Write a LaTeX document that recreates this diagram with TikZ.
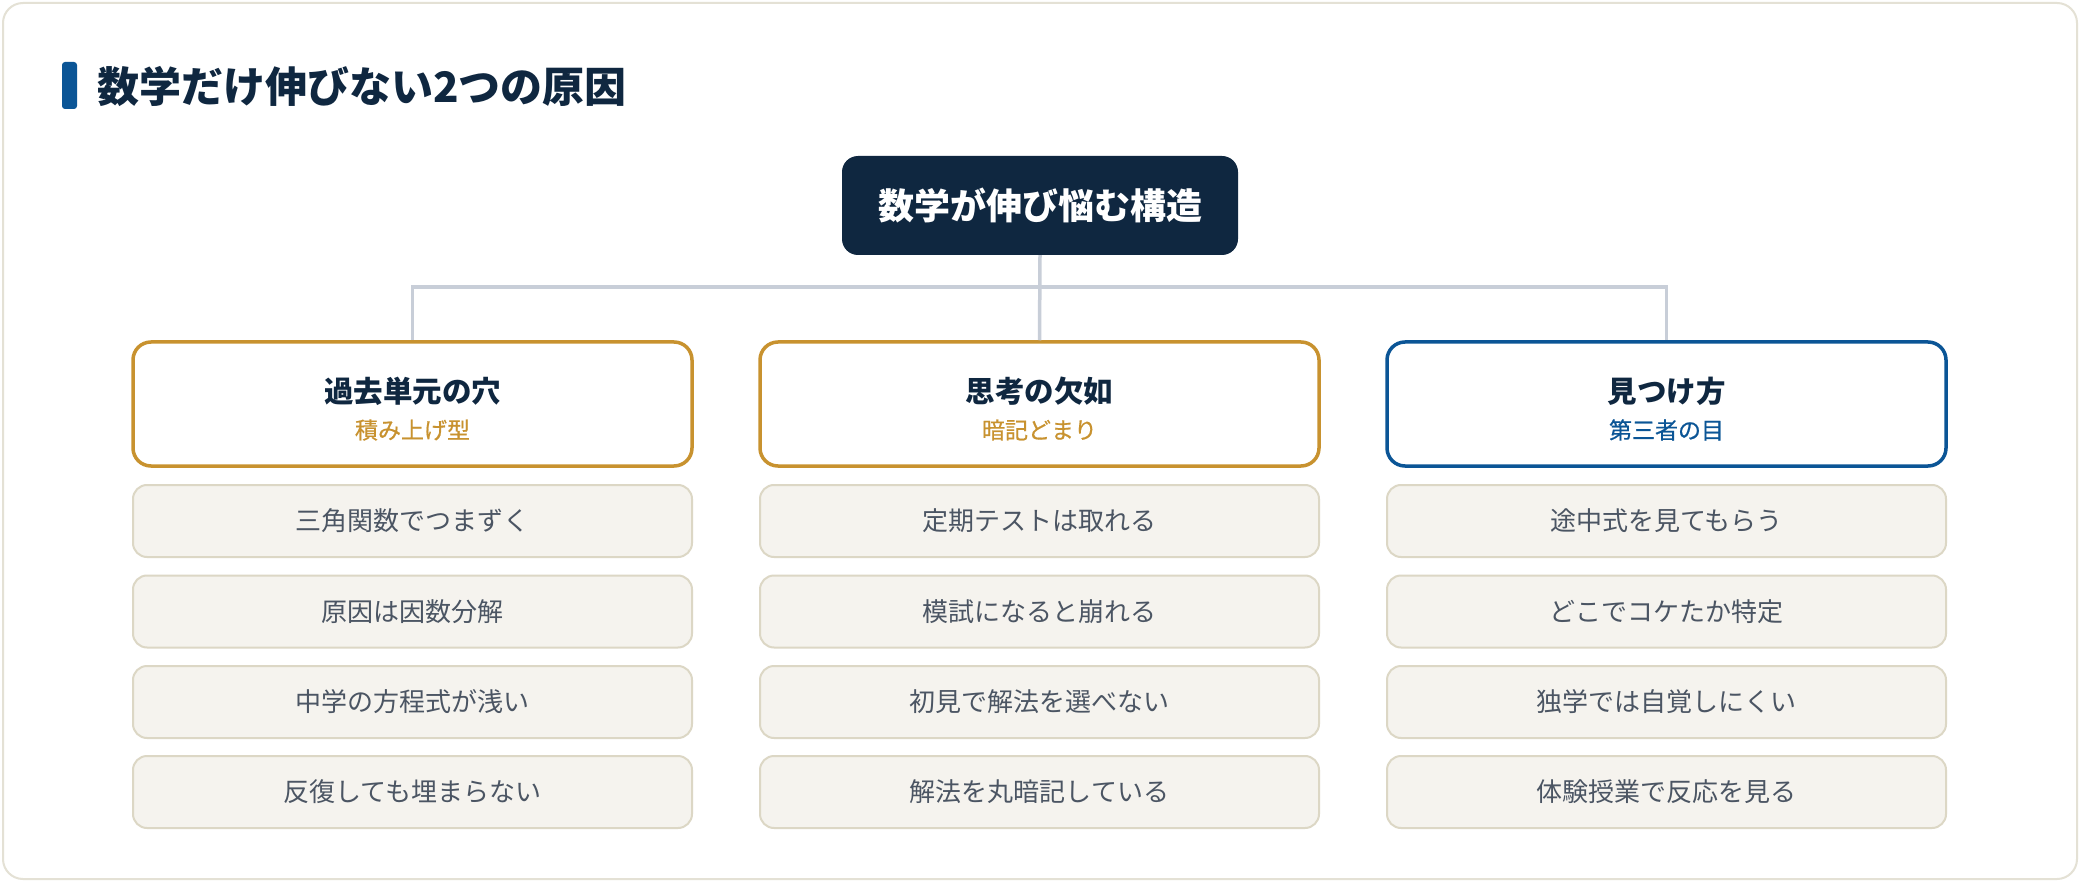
\documentclass[tikz,border=0pt]{standalone}
\usepackage{fontspec}
\setmainfont{Noto Sans CJK JP}
\definecolor{navy}{HTML}{0F2740}
\definecolor{gold}{HTML}{C8922F}
\definecolor{blueacc}{HTML}{0B5596}
\definecolor{connc}{HTML}{C8CED8}
\definecolor{itemfill}{HTML}{F5F3EE}
\definecolor{itemline}{HTML}{DCD7C5}
\definecolor{cardline}{HTML}{E4E1D5}
\definecolor{itemtext}{HTML}{4B5563}
\tikzset{
  cardbox/.style={draw=cardline, line width=2pt, fill=white, rounded corners=20pt},
  rootbox/.style={fill=navy, rounded corners=16pt, minimum width=396pt, minimum height=99pt, inner sep=0pt,
    text=white, font=\fontsize{36}{42}\selectfont\bfseries},
  conn/.style={draw=connc, line width=3.5pt},
  headbox/.style={draw=#1, line width=3.5pt, fill=white, rounded corners=18pt, minimum width=559pt, minimum height=124pt, inner sep=0pt},
  headtitle/.style={text=navy, font=\fontsize{29.5}{34}\selectfont\bfseries, inner sep=0pt},
  headsub/.style={text=#1, font=\fontsize{23}{27}\selectfont\addfontfeature{FakeBold=0.6}, inner sep=0pt},
  itembox/.style={draw=itemline, line width=2pt, fill=itemfill, rounded corners=14pt, minimum width=559pt, minimum height=72pt, inner sep=0pt,
    text=itemtext, font=\fontsize{26}{30}\selectfont},
}
\begin{document}
\begin{tikzpicture}[x=1pt,y=-1pt]
\useasboundingbox (0,0) rectangle (2080,882);
\fill[white] (0,0) rectangle (2080,882);
\draw[cardbox] (3,3) rectangle (2077,879);
% title
\node[fill=blueacc, rounded corners=3pt, minimum width=15pt, minimum height=47pt, inner sep=0pt] (tbar) at (69.5,85.5) {};
\node[anchor=west, text=navy, font=\fontsize{42}{48}\selectfont\bfseries, inner sep=0pt] (title) at (97,87) {数学だけ伸びない2つの原因};
% root
\node[rootbox] (root) at (1040,205.5) {数学が伸び悩む構造};
% headers
\node[headbox=gold] (h1) at (412.5,404) {};
\node[headbox=gold] (h2) at (1039.5,404) {};
\node[headbox=blueacc] (h3) at (1666.5,404) {};
\coordinate (bus) at (1040,287);
\draw[conn] (root.south) -- (h2.north);
\draw[conn] (h1.north) -- (h1.north |- bus) -- (h3.north |- bus) -- (h3.north);
\node[headtitle] (h1t) at (412.5,391) {過去単元の穴};
\node[headsub=gold] (h1s) at (412.5,430) {積み上げ型};
\node[headtitle] (h2t) at (1039.5,391) {思考の欠如};
\node[headsub=gold] (h2s) at (1039.5,430) {暗記どまり};
\node[headtitle] (h3t) at (1666.5,391) {見つけ方};
\node[headsub=blueacc] (h3s) at (1666.5,430) {第三者の目};
% items
\node[itembox] (a1) at (412.5,521) {三角関数でつまずく};
\node[itembox] (a2) at (412.5,611.5) {原因は因数分解};
\node[itembox] (a3) at (412.5,702) {中学の方程式が浅い};
\node[itembox] (a4) at (412.5,792) {反復しても埋まらない};
\node[itembox] (b1) at (1039.5,521) {定期テストは取れる};
\node[itembox] (b2) at (1039.5,611.5) {模試になると崩れる};
\node[itembox] (b3) at (1039.5,702) {初見で解法を選べない};
\node[itembox] (b4) at (1039.5,792) {解法を丸暗記している};
\node[itembox] (c1) at (1666.5,521) {途中式を見てもらう};
\node[itembox] (c2) at (1666.5,611.5) {どこでコケたか特定};
\node[itembox] (c3) at (1666.5,702) {独学では自覚しにくい};
\node[itembox] (c4) at (1666.5,792) {体験授業で反応を見る};
\end{tikzpicture}
\end{document}
